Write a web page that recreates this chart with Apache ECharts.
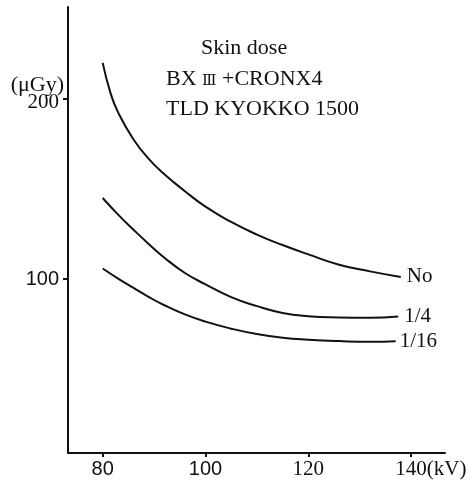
<!DOCTYPE html>
<html>
<head>
<meta charset="utf-8">
<title>Skin dose</title>
<script src="https://cdn.jsdelivr.net/npm/echarts@6/dist/echarts.min.js"></script>
<style>
  html, body { margin: 0; padding: 0; background: #fff; }
  #chart { width: 473px; height: 484px; }
</style>
</head>
<body>
<div id="chart"></div>
<script>
// Tube voltage (kV) and skin dose (µGy) for each filter setting
const kvNo = [80, 81.5, 83, 86, 89, 92, 96, 100, 105, 110, 115, 120, 126, 132, 138];
const doseNo = [220, 203.5, 192.5, 177.5, 166.6, 158.2, 148.8, 140.2, 131.7, 124.7, 118.9, 113.7, 108, 104.3, 101.2];

const kvQuarter = [80, 83, 86, 89, 92, 96, 100, 105, 110, 115, 120, 126, 132, 137.5];
const doseQuarter = [145, 135.8, 127.4, 119.4, 111.9, 103.4, 97.1, 90, 85, 81.2, 79.4, 78.7, 78.5, 79.3];

const kvSixteenth = [80, 83, 86, 89, 92, 96, 100, 105, 110, 115, 120, 126, 132, 137];
const doseSixteenth = [105.9, 100.3, 95.1, 90, 85.5, 80.4, 76.4, 72.5, 69.5, 67.5, 66.4, 65.6, 65.2, 65.5];

const seriesNames = ['No', '1/4', '1/16'];
const xTicks = [80, 100, 120, 140];
const yTicks = [100, 200];
const xUnit = '(kV)';
const yUnit = '(μGy)';

const SERIF = '"Liberation Serif", "DejaVu Serif", serif';
const SANS = '"Liberation Sans", Arial, sans-serif';
const INK = '#111';

function pairs(xs, ys) {
  return xs.map((x, i) => [x, ys[i]]);
}

const chart = echarts.init(document.getElementById('chart'));

const lineSeries = [
  [kvNo, doseNo, 6],
  [kvQuarter, doseQuarter, 6],
  [kvSixteenth, doseSixteenth, 4]
].map(([xs, ys, gap], i) => ({
  name: seriesNames[i],
  type: 'line',
  data: pairs(xs, ys),
  smooth: 0.5,
  showSymbol: false,
  symbol: 'none',
  lineStyle: { color: INK, width: 2 },
  endLabel: {
    show: true,
    formatter: '{a}',
    distance: gap,
    color: INK,
    fontFamily: SERIF,
    fontSize: 21
  }
}));

const titleStyle = { fontFamily: SERIF, fontSize: 22, fontWeight: 'normal', color: INK };

chart.setOption({
  animation: false,
  backgroundColor: '#fff',
  title: [
    { text: 'Skin dose', left: 201, top: 37 },
    { text: '{t|BX }{r|Ⅲ}{t| +CRONX4}', left: 166, top: 68 },
    { text: 'TLD KYOKKO 1500', left: 166, top: 98 }
  ].map(t => Object.assign(t, {
    padding: 0,
    textStyle: Object.assign({}, titleStyle, {
      rich: {
        t: titleStyle,
        r: { fontFamily: SERIF, fontSize: 15, color: INK, padding: [5, 0, 0, 0] }
      }
    })
  })),
  grid: { left: 68, right: 28, top: 7, bottom: 31 },
  xAxis: {
    type: 'value',
    min: 73.25,
    max: 146.6,
    axisLine: { show: true, onZero: false, lineStyle: { color: INK, width: 2 } },
    axisTick: { show: true, customValues: xTicks, length: 4, lineStyle: { color: INK, width: 2 } },
    splitLine: { show: false },
    axisLabel: {
      customValues: xTicks,
      margin: 6,
      color: INK,
      fontFamily: SERIF,
      fontSize: 21,
      formatter: v => {
        if (v === 140) return '{pad|' + xUnit + '}140' + xUnit;
        if (v === 80 || v === 100) return '{s|' + v + '}';
        return String(v);
      },
      rich: {
        pad: { color: 'rgba(0,0,0,0)', fontFamily: SERIF, fontSize: 21 },
        s: { fontFamily: SANS, fontSize: 20, color: INK }
      }
    }
  },
  yAxis: {
    type: 'value',
    min: 3.5,
    max: 251,
    name: yUnit,
    nameLocation: 'end',
    nameGap: -89,
    nameMoveOverlap: false,
    nameTextStyle: {
      fontFamily: SERIF,
      fontSize: 22,
      color: INK,
      align: 'right',
      verticalAlign: 'bottom',
      padding: [0, 4, 0, 0]
    },
    axisLine: { show: true, onZero: false, lineStyle: { color: INK, width: 2 } },
    axisTick: { show: true, customValues: yTicks, length: 5, lineStyle: { color: INK, width: 2 } },
    splitLine: { show: false },
    axisLabel: {
      customValues: yTicks,
      margin: 9,
      color: INK,
      fontFamily: SERIF,
      fontSize: 21,
      formatter: v => (v === 100 ? '{s|100}' : '{d|' + v + '}'),
      rich: {
        s: { fontFamily: SANS, fontSize: 20, color: INK },
        d: { fontFamily: SERIF, fontSize: 21, color: INK, padding: [8, 0, 0, 0] }
      }
    }
  },
  series: lineSeries
});
</script>
</body>
</html>
